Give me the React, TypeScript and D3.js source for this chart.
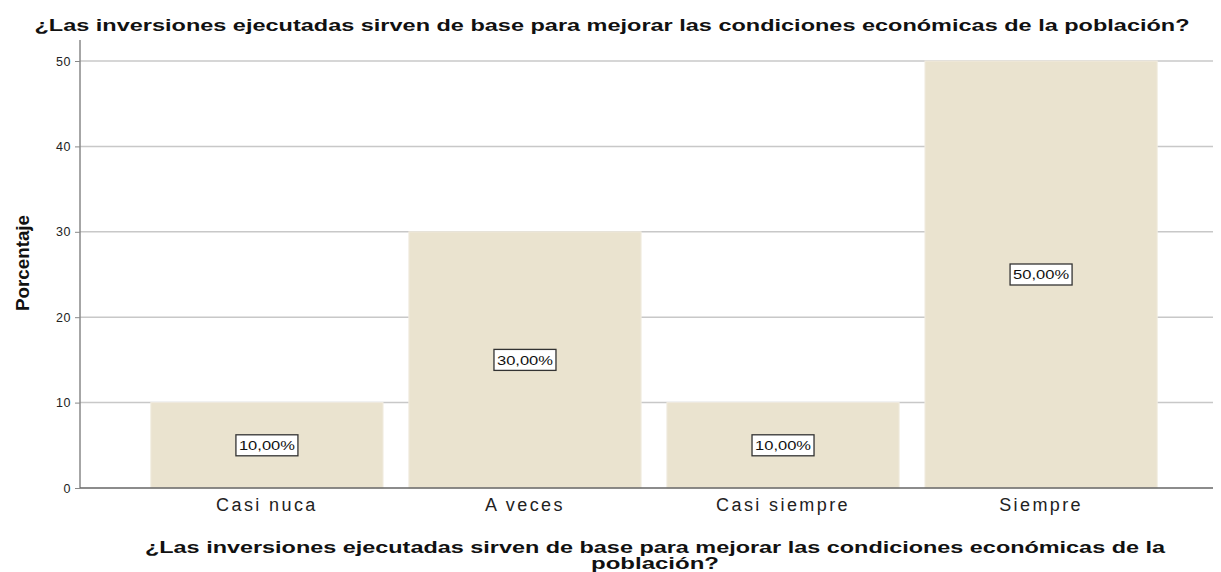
import React, { useEffect, useRef } from "react";
import * as d3 from "d3";

// data
const categories = ["Casi nuca", "A veces", "Casi siempre", "Siempre"];
const percentages = [10, 30, 10, 50];
const yTicks = [0, 10, 20, 30, 40, 50];

const title = "¿Las inversiones ejecutadas sirven de base para mejorar las condiciones económicas de la población?";
const xTitleLines = [
  "¿Las inversiones ejecutadas sirven de base para mejorar las condiciones económicas de la",
  "población?",
];
const yTitle = "Porcentaje";

const W = 1221, H = 572;
const plotLeft = 80, plotRight = 1213, plotTop = 40;
const font = "Liberation Sans, Arial, sans-serif";

export default function App() {
  const ref = useRef<SVGSVGElement | null>(null);

  useEffect(() => {
    const svg = d3.select(ref.current);
    svg.selectAll("*").remove();

    const x = d3.scaleBand<string>()
      .domain(categories)
      .range([125, 1183])
      .paddingInner(0.1)
      .paddingOuter(0.1);

    const y = d3.scaleLinear()
      .domain([0, 50])
      .range([488, 61]);

    // grid lines
    svg.append("g")
      .selectAll("line")
      .data(yTicks.filter(d => d > 0))
      .join("line")
      .attr("x1", plotLeft)
      .attr("x2", plotRight)
      .attr("y1", d => y(d))
      .attr("y2", d => y(d))
      .attr("stroke", "#c8c8c8")
      .attr("stroke-width", 1.5);

    // bars
    svg.append("g")
      .selectAll("rect")
      .data(percentages)
      .join("rect")
      .attr("x", (d, i) => x(categories[i])!)
      .attr("y", d => y(d))
      .attr("width", x.bandwidth())
      .attr("height", d => y(0) - y(d))
      .attr("fill", "#eae3cf")
      .attr("stroke", "#f1ece0")
      .attr("stroke-width", 1);

    // axes
    const yAxis = svg.append("g")
      .attr("transform", `translate(${plotLeft},0)`)
      .call(d3.axisLeft(y).tickValues(yTicks).tickSize(5).tickFormat(d3.format("d")));
    yAxis.select(".domain").remove();
    yAxis.selectAll(".tick line").attr("stroke", "#888");
    yAxis.selectAll(".tick text")
      .attr("font-family", font)
      .attr("font-size", 12.5)
      .attr("letter-spacing", 0.6)
      .attr("fill", "#222")
      .attr("x", -9);

    svg.append("line")
      .attr("x1", plotLeft).attr("x2", plotLeft)
      .attr("y1", plotTop).attr("y2", y(0))
      .attr("stroke", "#888").attr("stroke-width", 1.5);

    const xAxis = svg.append("g")
      .attr("transform", `translate(0,${y(0)})`)
      .call(d3.axisBottom(x).tickSize(0).tickPadding(10));
    xAxis.select(".domain").remove();
    xAxis.selectAll(".tick text")
      .attr("font-family", font)
      .attr("font-size", 18)
      .attr("letter-spacing", 2.4)
      .attr("fill", "#222");

    svg.append("line")
      .attr("x1", plotLeft).attr("x2", plotRight)
      .attr("y1", y(0)).attr("y2", y(0))
      .attr("stroke", "#666").attr("stroke-width", 1.5);

    // value labels with boxes
    const labels = svg.append("g")
      .selectAll("g")
      .data(percentages)
      .join("g")
      .attr("transform", (d, i) => `translate(${x(categories[i])! + x.bandwidth() / 2},${y(d / 2)})`);
    labels.append("rect")
      .attr("x", -31).attr("y", -10.5)
      .attr("width", 62).attr("height", 21)
      .attr("fill", "#fff")
      .attr("stroke", "#333")
      .attr("stroke-width", 1.3);
    labels.append("text")
      .attr("text-anchor", "middle")
      .attr("dy", "0.36em")
      .attr("font-family", font)
      .attr("font-size", 13)
      .attr("textLength", 56)
      .attr("lengthAdjust", "spacingAndGlyphs")
      .attr("fill", "#111")
      .text(d => d3.format(".2f")(d).replace(".", ",") + "%");

    // titles
    svg.append("text")
      .attr("x", 612).attr("y", 31)
      .attr("text-anchor", "middle")
      .attr("font-family", font)
      .attr("font-weight", "bold")
      .attr("font-size", 16.5)
      .attr("textLength", 1155)
      .attr("lengthAdjust", "spacingAndGlyphs")
      .attr("fill", "#111")
      .text(title);

    svg.append("g")
      .selectAll("text")
      .data(xTitleLines)
      .join("text")
      .attr("x", 655)
      .attr("y", (d, i) => 553 + i * 16)
      .attr("text-anchor", "middle")
      .attr("font-family", font)
      .attr("font-weight", "bold")
      .attr("font-size", 16.5)
      .attr("textLength", (d, i) => (i === 0 ? 1020 : 128))
      .attr("lengthAdjust", "spacingAndGlyphs")
      .attr("fill", "#111")
      .text(d => d);

    svg.append("text")
      .attr("transform", "translate(29,263) rotate(-90)")
      .attr("text-anchor", "middle")
      .attr("font-family", "Liberation Sans Narrow, Arial Narrow, sans-serif")
      .attr("font-weight", "bold")
      .attr("font-size", 19)
      .attr("textLength", 96)
      .attr("lengthAdjust", "spacingAndGlyphs")
      .attr("fill", "#111")
      .text(yTitle);
  }, []);

  return (
    <svg ref={ref} width={W} height={H} style={{ position: "absolute", left: 0, top: 0, background: "#fff" }} />
  );
}
